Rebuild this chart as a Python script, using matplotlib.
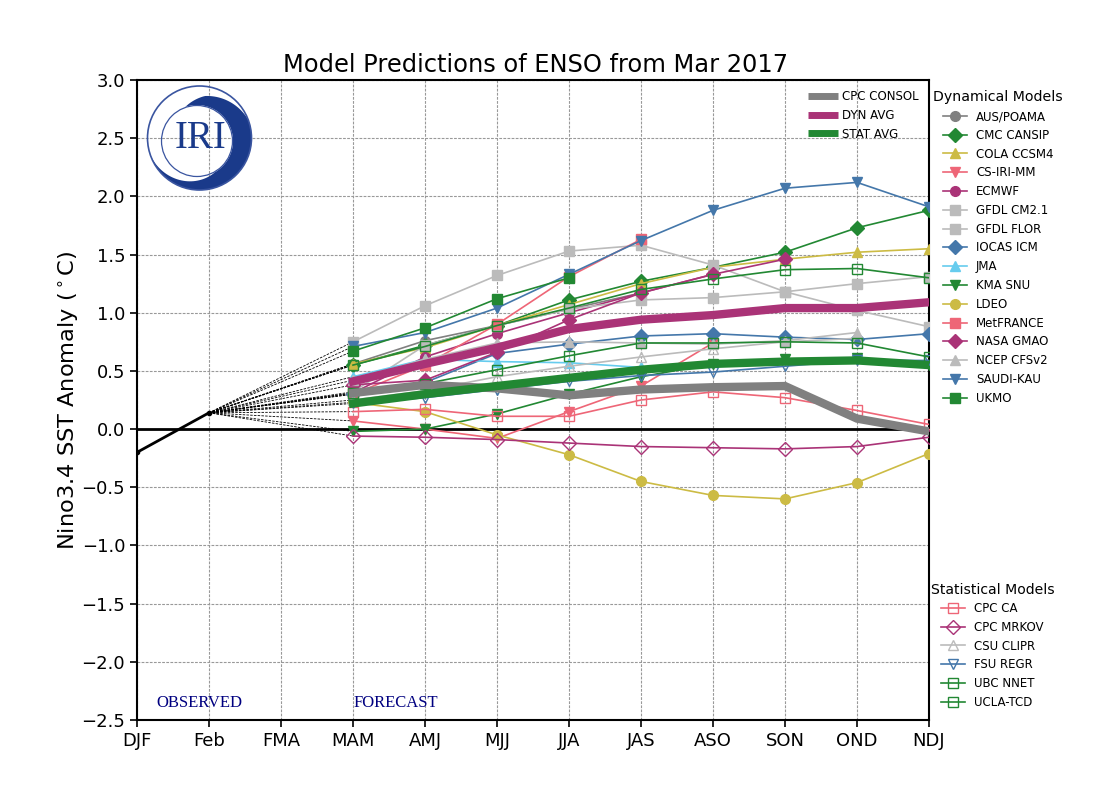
import numpy as np
import matplotlib
matplotlib.use("Agg")
import matplotlib.pyplot as plt
from matplotlib.patches import Circle, Polygon
from matplotlib.lines import Line2D

seasons = ["DJF", "Feb", "FMA", "MAM", "AMJ", "MJJ", "JJA", "JAS", "ASO", "SON", "OND", "NDJ"]
n = np.nan
observed = [-0.20, 0.14]

aus_poama = [0.56, 0.76, 0.89, 1.03, 1.17, n, n, n, n]
cmc_cansip = [0.55, 0.72, 0.89, 1.11, 1.27, 1.39, 1.52, 1.73, 1.88]
cola_ccsm4 = [0.56, 0.70, 0.89, 1.07, 1.25, 1.39, 1.46, 1.52, 1.55]
cs_iri_mm = [0.07, 0.00, -0.08, 0.15, 0.37, 0.74, n, n, n]
ecmwf = [0.31, 0.62, 0.82, 1.00, 1.17, 1.33, n, n, n]
gfdl_cm21 = [0.32, 0.72, 0.89, 1.03, 1.11, 1.13, 1.18, 1.25, 1.31]
gfdl_flor = [0.75, 1.06, 1.32, 1.53, 1.58, 1.41, 1.18, 1.02, 0.88]
iocas_icm = [0.30, 0.40, 0.65, 0.73, 0.80, 0.82, 0.79, 0.77, 0.82]
jma = [0.45, 0.60, 0.58, 0.57, 0.53, n, n, n, n]
kma_snu = [-0.02, 0.00, 0.13, 0.30, 0.45, 0.56, 0.60, 0.61, 0.55]
ldeo = [0.23, 0.15, -0.05, -0.22, -0.45, -0.57, -0.60, -0.46, -0.21]
metfrance = [0.30, 0.55, 0.90, 1.31, 1.63, n, n, n, n]
nasa_gmao = [0.38, 0.42, 0.66, 0.94, 1.17, 1.33, 1.46, n, n]
ncep_cfsv2 = [0.42, 0.60, 0.74, 0.75, 0.74, 0.73, 0.76, 0.83, n]
saudi_kau = [0.71, 0.83, 1.04, 1.33, 1.62, 1.88, 2.07, 2.12, 1.91]
ukmo = [0.67, 0.87, 1.12, 1.30, n, n, n, n, n]

cpc_ca = [0.15, 0.17, 0.11, 0.11, 0.25, 0.32, 0.27, 0.16, 0.04]
cpc_mrkov = [-0.06, -0.07, -0.09, -0.12, -0.15, -0.16, -0.17, -0.15, -0.07]
csu_clipr = [0.25, 0.33, 0.45, 0.54, 0.62, 0.69, 0.75, 0.78, n]
fsu_regr = [0.22, 0.27, 0.34, 0.41, 0.46, 0.49, 0.54, 0.59, 0.59]
ubc_nnet = [0.31, 0.39, 0.51, 0.63, 0.74, 0.74, 0.75, 0.74, 0.62]
ucla_tcd = [0.55, 0.71, 0.89, 1.04, 1.20, 1.29, 1.37, 1.38, 1.30]

cpc_consol = [0.31, 0.38, 0.35, 0.29, 0.34, 0.36, 0.37, 0.09, -0.02]
dyn_avg = [0.41, 0.56, 0.70, 0.86, 0.94, 0.98, 1.04, 1.04, 1.09]
stat_avg = [0.22, 0.30, 0.37, 0.44, 0.51, 0.56, 0.58, 0.59, 0.55]

GRAY, GREEN, YEL, PINK, PURP, LG, BLUE, CYAN = ("#808080", "#228833", "#CCBB44", "#EE6677",
                                                "#AA3377", "#BBBBBB", "#4477AA", "#66CCEE")
dynamical = [("AUS/POAMA", aus_poama, GRAY, "o"), ("CMC CANSIP", cmc_cansip, GREEN, "D"),
             ("COLA CCSM4", cola_ccsm4, YEL, "^"), ("CS-IRI-MM", cs_iri_mm, PINK, "v"),
             ("ECMWF", ecmwf, PURP, "o"), ("GFDL CM2.1", gfdl_cm21, LG, "s"),
             ("GFDL FLOR", gfdl_flor, LG, "s"), ("IOCAS ICM", iocas_icm, BLUE, "D"),
             ("JMA", jma, CYAN, "^"), ("KMA SNU", kma_snu, GREEN, "v"),
             ("LDEO", ldeo, YEL, "o"), ("MetFRANCE", metfrance, PINK, "s"),
             ("NASA GMAO", nasa_gmao, PURP, "D"), ("NCEP CFSv2", ncep_cfsv2, LG, "^"),
             ("SAUDI-KAU", saudi_kau, BLUE, "v"), ("UKMO", ukmo, GREEN, "s")]
statistical = [("CPC CA", cpc_ca, PINK, "s"), ("CPC MRKOV", cpc_mrkov, PURP, "D"),
               ("CSU CLIPR", csu_clipr, LG, "^"), ("FSU REGR", fsu_regr, BLUE, "v"),
               ("UBC NNET", ubc_nnet, GREEN, "s"), ("UCLA-TCD", ucla_tcd, GREEN, "s")]
averages = [("CPC CONSOL", cpc_consol, GRAY), ("DYN AVG", dyn_avg, PURP), ("STAT AVG", stat_avg, GREEN)]

W, H = 1100, 800
fig = plt.figure(figsize=(11, 8), dpi=100)
ax = fig.add_axes([137 / W, 1 - 720 / H, 792 / W, 640 / H])
xf = np.arange(3, 12)
xs = np.arange(len(seasons))

for label, vals, c, m in dynamical + statistical:
    ax.plot([1, 3], [observed[1], vals[0]], color="k", lw=0.6, ls=(0, (3, 1.5)), zorder=2)
ax.plot(xs[:2], observed, color="k", lw=2, marker="o", ms=3, zorder=3)
ax.axhline(0, color="k", lw=2, zorder=3)

handles_d, handles_s = [], []
for label, vals, c, m in dynamical:
    ax.plot(xf, vals, color=c, marker=m, ms=7, lw=1.2, zorder=4)
    handles_d.append(Line2D([], [], color=c, marker=m, ms=7, lw=1.2, label=label))
for label, vals, c, m in statistical:
    ax.plot(xf, vals, color=c, marker=m, ms=7, lw=1.2, mfc="none", zorder=4)
    handles_s.append(Line2D([], [], color=c, marker=m, ms=7, lw=1.2, mfc="none", label=label))
handles_a = []
for label, vals, c in averages:
    ax.plot(xf, vals, color=c, lw=6, zorder=5, solid_joinstyle="miter")
    handles_a.append(Line2D([], [], color=c, lw=5, label=label, solid_capstyle="butt"))

ax.set_xlim(0, 11)
ax.set_ylim(-2.5, 3.0)
ax.set_xticks(xs)
ax.set_xticklabels(seasons, fontsize=13)
ax.set_yticks(np.arange(-2.5, 3.01, 0.5))
ax.tick_params(axis="y", labelsize=13, width=1.2, length=5)
ax.tick_params(axis="x", width=1.2, length=5)
ax.grid(True, color="#999999", ls=(0, (2.5, 1.2)), lw=0.8)
ax.set_axisbelow(True)
for s in ax.spines.values():
    s.set_linewidth(1.5)
ax.set_title("Model Predictions of ENSO from Mar 2017", fontsize=17.4, pad=6, x=0.503)
ax.set_ylabel(r"Nino3.4 SST Anomaly ($^\circ$C)", fontsize=16.2, labelpad=0)
ax.yaxis.set_label_coords((81 - 137) / 792, (720 - 400) / 640)

tr = fig.transFigure
leg_kw = dict(frameon=False, loc="upper left", fontsize=8.5, borderpad=0, borderaxespad=0,
              handletextpad=0.76, handlelength=2.03, labelspacing=0.49)
l1 = ax.legend(handles=handles_a, bbox_to_anchor=(808 / W, 1 - 90 / H), bbox_transform=tr,
               **{**leg_kw, "handlelength": 2.5, "handletextpad": 0.4})
ax.add_artist(l1)
l2 = ax.legend(handles=handles_d, bbox_to_anchor=(943 / W, 1 - 110 / H), bbox_transform=tr, **leg_kw)
ax.add_artist(l2)
l3 = ax.legend(handles=handles_s, bbox_to_anchor=(941 / W, 1 - 602 / H), bbox_transform=tr, **leg_kw)

fig.text(933 / W, 1 - 97 / H, "Dynamical Models", fontsize=10.2, va="center", ha="left")
fig.text(931 / W, 1 - 590 / H, "Statistical Models", fontsize=10.1, va="center", ha="left")
ax.text(156 / W, 1 - 703 / H, "OBSERVED", transform=tr, fontsize=12, color="navy", family="Liberation Serif", va="center")
ax.text(354 / W, 1 - 703 / H, "FORECAST", transform=tr, fontsize=12, color="navy", family="Liberation Serif", va="center")

# IRI logo, drawn on an overlay in pixel coordinates
logo = fig.add_axes([0, 0, 1, 1], facecolor="none")
logo.set_xlim(0, W)
logo.set_ylim(H, 0)
logo.axis("off")
NAVY = "#1A3A8A"


def arc(cx, cy, radius, start, stop, num=60):
    t = np.radians(np.linspace(start, stop, num))
    return np.column_stack([cx + radius * np.cos(t), cy + radius * np.sin(t)])


top_angles = np.linspace(-31, -119, 40)
top_r = np.interp(-top_angles, [31, 90, 119], [49, 47, 41])
crescent = np.vstack([
    arc(199.5, 138, 52, 161, -23),
    np.column_stack([205 + top_r * np.cos(np.radians(top_angles)),
                     143 + top_r * np.sin(np.radians(top_angles))]),
    arc(197, 141, 36, -109, 60),
    arc(197, 141, np.linspace(36, 49, 40), 60, 165, 40),
])
logo.add_patch(Polygon(crescent, closed=True, fc=NAVY, ec="none"))
logo.add_patch(Circle((199.5, 138), 52, fc="none", ec="#3A55A0", lw=1.2))
logo.add_patch(Circle((197, 141), 35.5, fc="none", ec="#3A55A0", lw=0.9))
logo.text(200, 138, "IRI", fontsize=28, color=NAVY, family="Liberation Serif", ha="center", va="center")

fig.savefig("out.png", dpi=100)
